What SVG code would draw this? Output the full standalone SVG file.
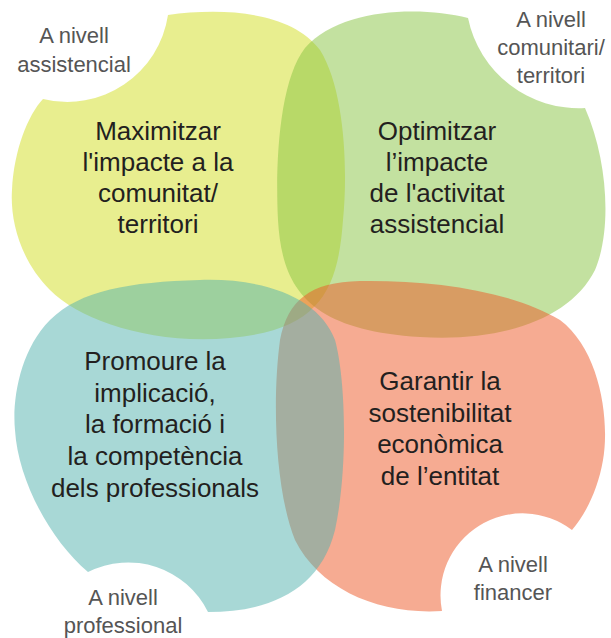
<svg xmlns="http://www.w3.org/2000/svg" width="611" height="638" viewBox="0 0 611 638">
  <style>
    .blob { opacity: 0.5; }
    .main { font-family: "Liberation Sans", Arial, Helvetica, sans-serif; font-size: 26px; fill: #231f20; text-anchor: middle; }
    .lbl { font-family: "Liberation Sans", Arial, Helvetica, sans-serif; font-size: 22px; fill: #555555; text-anchor: middle; }
  </style>
  <rect width="611" height="638" fill="#ffffff"/>
  <g id="node-assistencial">
    <path class="blob" fill="#d1dd1f" d="M168,15 C220,8 290,10 320,50 C345,90 348,170 343,220 C338,290 320,330 230,338 C150,345 80,320 50,290 C20,260 10,220 12,190 C14,150 28,115 43,99 A102,102 0 0 0 168,15 Z"/>
  </g>
  <g id="node-comunitari">
    <path class="blob" fill="#87c341" d="M468,18 C420,6 340,8 305,48 C280,80 275,160 278,220 C282,290 310,330 420,337 C500,342 570,320 595,270 C612,230 608,160 585,108 A113,113 0 0 1 468,18 Z"/>
  </g>
  <g id="node-financer">
    <path class="blob" fill="#ed5725" d="M442,611 C380,615 320,590 295,540 C275,490 272,400 280,340 C288,300 310,282 360,281 C430,280 510,290 560,320 C600,350 610,420 603,460 C598,490 585,515 572,530 A82,82 0 0 0 442,611 Z"/>
  </g>
  <g id="node-professional">
    <path class="blob" fill="#51b1ad" d="M208,612 C270,612 320,590 335,530 C348,470 346,380 335,340 C320,300 270,278 200,280 C130,282 80,290 50,320 C20,350 12,400 15,430 C18,480 50,540 88,572 A89,89 0 0 1 208,612 Z"/>
  </g>
  <g id="texts-assistencial">
    <text class="main" x="158" y="140">Maximitzar</text>
    <text class="main" x="158" y="171">l'impacte a la</text>
    <text class="main" x="158" y="202">comunitat/</text>
    <text class="main" x="158" y="233">territori</text>
    <text class="lbl" x="74" y="43">A nivell</text>
    <text class="lbl" x="74" y="72">assistencial</text>
  </g>
  <g id="texts-comunitari">
    <text class="main" x="437" y="140">Optimitzar</text>
    <text class="main" x="437" y="171">l’impacte</text>
    <text class="main" x="437" y="202">de l'activitat</text>
    <text class="main" x="437" y="233">assistencial</text>
    <text class="lbl" x="551" y="27">A nivell</text>
    <text class="lbl" x="551" y="55">comunitari/</text>
    <text class="lbl" x="551" y="83">territori</text>
  </g>
  <g id="texts-financer">
    <text class="main" x="440" y="390">Garantir la</text>
    <text class="main" x="440" y="422">sostenibilitat</text>
    <text class="main" x="440" y="453">econòmica</text>
    <text class="main" x="440" y="485">de l’entitat</text>
    <text class="lbl" x="513" y="572">A nivell</text>
    <text class="lbl" x="513" y="600">financer</text>
  </g>
  <g id="texts-professional">
    <text class="main" x="155" y="370">Promoure la</text>
    <text class="main" x="155" y="402">implicació,</text>
    <text class="main" x="155" y="433">la formació i</text>
    <text class="main" x="155" y="465">la competència</text>
    <text class="main" x="155" y="497">dels professionals</text>
    <text class="lbl" x="123" y="605">A nivell</text>
    <text class="lbl" x="123" y="633">professional</text>
  </g>
</svg>
